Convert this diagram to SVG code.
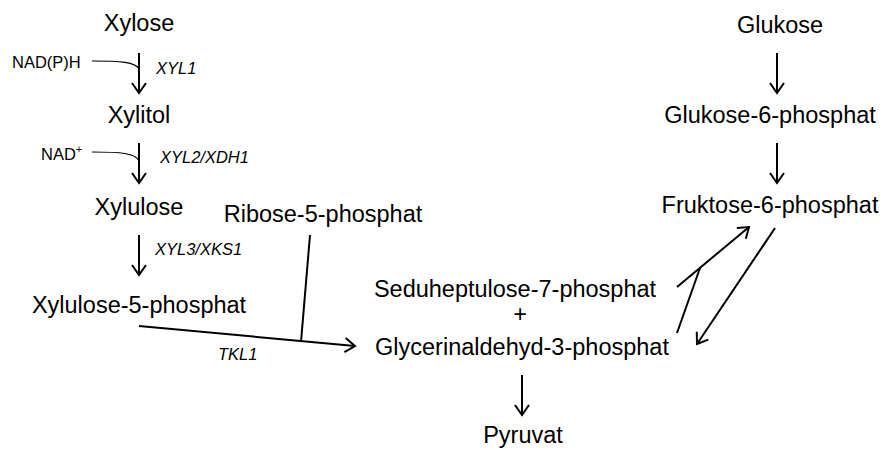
<svg xmlns="http://www.w3.org/2000/svg" width="887" height="450" viewBox="0 0 887 450">
<style>
.t{font-family:"Liberation Sans",Arial,sans-serif;font-size:23.5px;fill:#000;text-anchor:middle}
.s{font-family:"Liberation Sans",Arial,sans-serif;font-size:16.5px;fill:#000}
.i{font-style:italic}
.c{fill:none;stroke:#000;stroke-width:2}
.f{fill:none;stroke:#000;stroke-width:1.2}
</style>
<defs>
<marker id="ah" markerUnits="userSpaceOnUse" markerWidth="20" markerHeight="20" viewBox="-12 -10 14 20" refX="0" refY="0" orient="auto">
<path d="M-10,-7 L0,0 L-10,7" fill="none" stroke="#000" stroke-width="2"/>
</marker>
</defs>
<rect width="887" height="450" fill="#fff"/>
<g id="xylose"><text class="t" x="139" y="31">Xylose</text></g>
<g id="xylitol"><text class="t" x="139" y="123">Xylitol</text></g>
<g id="xylulose"><text class="t" x="139" y="215">Xylulose</text></g>
<g id="xylulose5p"><text class="t" x="139" y="313">Xylulose-5-phosphat</text></g>
<g id="ribose5p"><text class="t" x="323" y="222">Ribose-5-phosphat</text></g>
<g id="s7p"><text class="t" x="515" y="297">Seduheptulose-7-phosphat</text><text class="t" x="520" y="322">+</text></g>
<g id="g3p"><text class="t" x="522" y="355">Glycerinaldehyd-3-phosphat</text></g>
<g id="pyruvat"><text class="t" x="523" y="443">Pyruvat</text></g>
<g id="glukose"><text class="t" x="780" y="33">Glukose</text></g>
<g id="g6p"><text class="t" x="770" y="123">Glukose-6-phosphat</text></g>
<g id="f6p"><text class="t" x="770" y="213">Fruktose-6-phosphat</text></g>
<g id="cofactors">
<text class="s" x="12" y="68">NAD(P)H</text>
<text class="s" x="41" y="160">NAD<tspan font-size="11" dy="-7">+</tspan></text>
</g>
<g id="enzymes">
<text class="s i" x="156" y="74">XYL1</text>
<text class="s i" x="160" y="163">XYL2/XDH1</text>
<text class="s i" x="155" y="255">XYL3/XKS1</text>
<text class="s i" x="218" y="360">TKL1</text>
</g>
<g id="connectors">
<path class="c" d="M139,53 V93" marker-end="url(#ah)"/>
<path class="c" d="M139,143 V183" marker-end="url(#ah)"/>
<path class="c" d="M139,235 V275" marker-end="url(#ah)"/>
<path class="f" d="M92,61 C120,61 136,62 139,69"/>
<path class="f" d="M92,152 C120,152 136,153 139,161"/>
<path class="c" d="M139,326 L355,346" marker-end="url(#ah)"/>
<path class="c" d="M310,235 L301,342"/>
<path class="c" d="M777,53 V93" marker-end="url(#ah)"/>
<path class="c" d="M777,143 V183" marker-end="url(#ah)"/>
<path class="c" d="M677,287 L749,227" marker-end="url(#ah)"/>
<path class="c" d="M677,333 L700,268"/>
<path class="c" d="M775,228 L697,344" marker-end="url(#ah)"/>
<path class="c" d="M522,375 V415" marker-end="url(#ah)"/>
</g>
</svg>
